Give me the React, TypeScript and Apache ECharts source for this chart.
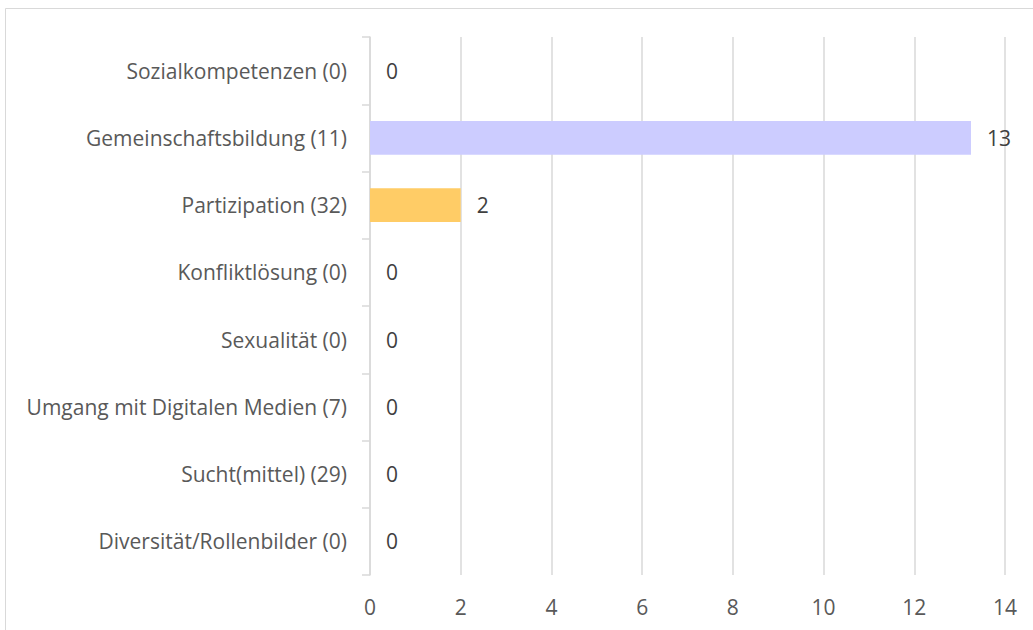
import React, { useEffect, useRef } from "react";
import * as echarts from "echarts";

const categories = [
  "Sozialkompetenzen (0)",
  "Gemeinschaftsbildung (11)",
  "Partizipation (32)",
  "Konfliktlösung (0)",
  "Sexualität (0)",
  "Umgang mit Digitalen Medien (7)",
  "Sucht(mittel) (29)",
  "Diversität/Rollenbilder (0)",
];
const values = [0, 13.25, 2, 0, 0, 0, 0, 0];
const barColors = ["#9dc3e6", "#ccccff", "#ffcc66", "#a9d18e", "#f4b183", "#c9c9c9", "#8faadc", "#ffd966"];
const xTicks = { min: 0, max: 14, interval: 2 };

const FONT = "'Open Sans', sans-serif";
const FS = 21;

export default function App() {
  const ref = useRef<HTMLDivElement>(null);
  useEffect(() => {
    if (!ref.current) return;
    const chart = echarts.init(ref.current, undefined, { renderer: "svg" });
    chart.setOption({
      animation: false,
      graphic: [
        {
          type: "rect",
          shape: { x: 5.5, y: 8.5, width: 1100, height: 700 },
          style: { fill: "none", stroke: "#d9d9d9", lineWidth: 1 },
          silent: true,
        },
      ],
      grid: { left: 370, right: 28, top: 37, bottom: 55, containLabel: false },
      xAxis: {
        type: "value",
        min: xTicks.min,
        max: xTicks.max,
        interval: xTicks.interval,
        axisLine: { show: false },
        axisTick: { show: false },
        axisLabel: { color: "#595959", fontSize: FS, fontFamily: FONT, margin: 21 },
        splitLine: { show: true, lineStyle: { color: "#d9d9d9", width: 1.5 } },
      },
      yAxis: {
        type: "category",
        data: categories,
        inverse: true,
        axisLine: { show: true, lineStyle: { color: "#d9d9d9", width: 1.5 } },
        axisTick: { show: true, length: 8, alignWithLabel: false, lineStyle: { color: "#d9d9d9", width: 1.5 } },
        axisLabel: { color: "#595959", fontSize: FS, fontFamily: FONT, margin: 23 },
        splitLine: { show: false },
      },
      series: [
        {
          type: "bar",
          barCategoryGap: "50%",
          data: values.map((v, i) => ({ value: v, itemStyle: { color: barColors[i] } })),
          label: {
            show: true,
            position: "right",
            distance: 16,
            color: "#404040",
            fontSize: FS,
            fontFamily: FONT,
            formatter: (p: any) => String(Math.round(p.value)),
          },
        },
      ],
    });
    return () => chart.dispose();
  }, []);
  return (
    <div
      ref={ref}
      style={{ position: "absolute", left: 0, top: 0, width: 1033, height: 630, background: "#fff" }}
    />
  );
}
